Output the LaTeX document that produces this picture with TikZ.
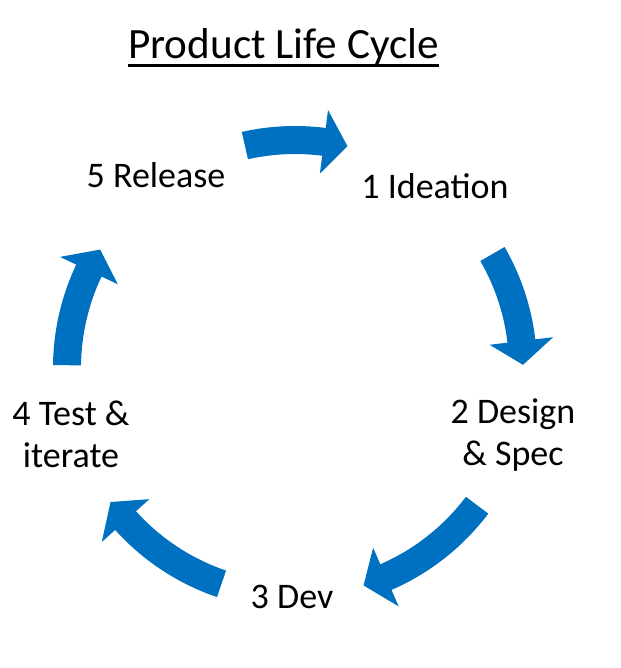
\documentclass[tikz,border=0pt]{standalone}
\usepackage{fontspec}
\setmainfont{Carlito}
\usepackage{xcolor}
\usetikzlibrary{positioning}
\definecolor{cycleblue}{RGB}{0,112,192}

\begin{document}
\begin{tikzpicture}[
    x=0.5pt, y=0.5pt,
    every node/.style={inner sep=0pt},
    stage/.style={
        align=center,
        font=\fontsize{18}{21}\selectfont
    },
    heading/.style={
        font=\fontsize{21.6}{26}\selectfont
    },
    cycle arrow/.style={
        fill=cycleblue,
        draw=none
    }
]
\useasboundingbox (-295,-300) rectangle (325,368);

% Title with its rule
\node[heading, anchor=base] (title) at (-11.5,309) {Product Life Cycle};
\draw[line width=1.5pt] ([yshift=-3.2pt]title.base west) -- ([yshift=-3.2pt]title.base east);

% Stages round the cycle
\node[stage] (ideation) at (140,182)  {1 Ideation};
\node[stage] (design)   at (218,-67)  {2 Design\\\& Spec};
\node[stage] (dev)      at (-3,-229)  {3 Dev};
\node[stage] (test)     at (-224,-66) {4 Test \&\\iterate};
\node[stage] (release)  at (-139,193) {5 Release};

% Curved arrows, clockwise, between the stages
\foreach \from/\to in {102.7/76.7, 30/0.8, -37/-72.5, -108.8/-144, 179.3/148.7}{
    \pgfmathsetmacro{\neck}{\to+6}
    \fill[cycle arrow] (\from:121pt) arc[start angle=\from, end angle=\neck, radius=121pt]
        -- (\neck:130pt) -- (\to:114pt) -- (\neck:98pt) -- (\neck:107pt)
        arc[start angle=\neck, end angle=\from, radius=107pt] -- cycle;
}

\end{tikzpicture}
\end{document}
